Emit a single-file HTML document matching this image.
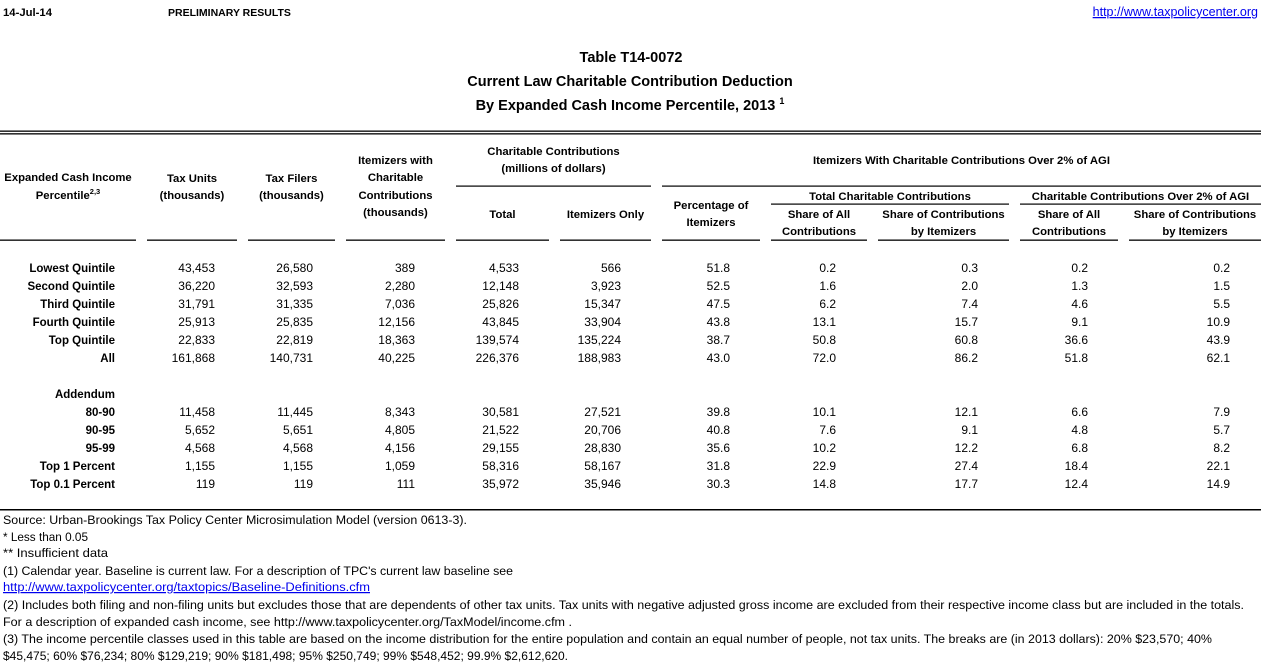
<!DOCTYPE html>
<html>
<head>
<meta charset="utf-8">
<style>
html,body{margin:0;padding:0;background:#fff;}
svg{display:block;}
text{font-family:"Liberation Sans",Arial,sans-serif;fill:#000;}
.h{font-weight:bold;font-size:11.3px;text-anchor:middle;}
.lb{font-weight:bold;font-size:11.5px;text-anchor:end;}
.d{font-size:12px;text-anchor:end;}
.ti{font-weight:bold;font-size:14.5px;text-anchor:middle;}
.f{font-size:12.3px;}
.lnk{fill:#0000ee;text-decoration:underline;}
</style>
</head>
<body>
<svg width="1261" height="664" viewBox="0 0 1261 664" xmlns="http://www.w3.org/2000/svg">
<!-- top line -->
<text x="3" y="16" style="font-weight:bold;font-size:11.3px">14-Jul-14</text>
<text x="168" y="16" style="font-weight:bold;font-size:10.5px">PRELIMINARY RESULTS</text>
<text x="1258" y="16" class="lnk" style="font-size:12.5px;text-anchor:end">http://www.taxpolicycenter.org</text>

<!-- titles -->
<text x="631" y="62" class="ti">Table T14-0072</text>
<text x="630" y="86" class="ti">Current Law Charitable Contribution Deduction</text>
<text x="630" y="110" class="ti">By Expanded Cash Income Percentile, 2013 <tspan style="font-size:9px" dy="-6">1</tspan></text>

<!-- double rule -->
<rect x="0" y="130.5" width="1261" height="1.3" fill="#000"/>
<rect x="0" y="133.2" width="1261" height="1.3" fill="#000"/>

<!-- header text -->
<text x="68" y="181" class="h">Expanded Cash Income</text>
<text x="68" y="199" class="h">Percentile<tspan style="font-size:7.5px" dy="-5">2,3</tspan></text>
<text x="192" y="182" class="h">Tax Units</text>
<text x="192" y="199" class="h">(thousands)</text>
<text x="291.5" y="182" class="h">Tax Filers</text>
<text x="291.5" y="199" class="h">(thousands)</text>
<text x="395.5" y="164" class="h">Itemizers with</text>
<text x="395.5" y="181" class="h">Charitable</text>
<text x="395.5" y="199" class="h">Contributions</text>
<text x="395.5" y="216" class="h">(thousands)</text>
<text x="553.5" y="155" class="h">Charitable Contributions</text>
<text x="553.5" y="172" class="h">(millions of dollars)</text>
<text x="961.5" y="164" class="h">Itemizers With Charitable Contributions Over 2% of AGI</text>
<text x="502.5" y="218" class="h">Total</text>
<text x="605.5" y="218" class="h">Itemizers Only</text>
<text x="711" y="209" class="h">Percentage of</text>
<text x="711" y="226" class="h">Itemizers</text>
<text x="890" y="200" class="h">Total Charitable Contributions</text>
<text x="1140.5" y="200" class="h">Charitable Contributions Over 2% of AGI</text>
<text x="819" y="218" class="h">Share of All</text>
<text x="819" y="235" class="h">Contributions</text>
<text x="943.5" y="218" class="h">Share of Contributions</text>
<text x="943.5" y="235" class="h">by Itemizers</text>
<text x="1069" y="218" class="h">Share of All</text>
<text x="1069" y="235" class="h">Contributions</text>
<text x="1195" y="218" class="h">Share of Contributions</text>
<text x="1195" y="235" class="h">by Itemizers</text>

<!-- header rules -->
<rect x="456" y="185.5" width="195" height="1.2" fill="#000"/>
<rect x="662" y="185.5" width="599" height="1.2" fill="#000"/>
<rect x="771" y="203.5" width="238" height="1.2" fill="#000"/>
<rect x="1020" y="203.5" width="241" height="1.2" fill="#000"/>
<g fill="#000">
<rect x="0" y="239.5" width="136" height="1.3"/>
<rect x="147" y="239.5" width="90" height="1.3"/>
<rect x="248" y="239.5" width="87" height="1.3"/>
<rect x="346" y="239.5" width="99" height="1.3"/>
<rect x="456" y="239.5" width="93" height="1.3"/>
<rect x="560" y="239.5" width="91" height="1.3"/>
<rect x="662" y="239.5" width="98" height="1.3"/>
<rect x="771" y="239.5" width="96" height="1.3"/>
<rect x="878" y="239.5" width="131" height="1.3"/>
<rect x="1020" y="239.5" width="98" height="1.3"/>
<rect x="1129" y="239.5" width="132" height="1.3"/>
</g>

<!-- row labels -->
<text x="115" y="272" class="lb">Lowest Quintile</text>
<text x="115" y="290" class="lb">Second Quintile</text>
<text x="115" y="308" class="lb">Third Quintile</text>
<text x="115" y="326" class="lb">Fourth Quintile</text>
<text x="115" y="344" class="lb">Top Quintile</text>
<text x="115" y="362" class="lb">All</text>
<text x="115" y="398" class="lb">Addendum</text>
<text x="115" y="416" class="lb">80-90</text>
<text x="115" y="434" class="lb">90-95</text>
<text x="115" y="452" class="lb">95-99</text>
<text x="115" y="470" class="lb">Top 1 Percent</text>
<text x="115" y="488" class="lb">Top 0.1 Percent</text>

<g class="d">
<text x="215" y="272" class="d">43,453</text>
<text x="215" y="290" class="d">36,220</text>
<text x="215" y="308" class="d">31,791</text>
<text x="215" y="326" class="d">25,913</text>
<text x="215" y="344" class="d">22,833</text>
<text x="215" y="362" class="d">161,868</text>
<text x="215" y="416" class="d">11,458</text>
<text x="215" y="434" class="d">5,652</text>
<text x="215" y="452" class="d">4,568</text>
<text x="215" y="470" class="d">1,155</text>
<text x="215" y="488" class="d">119</text>

<text x="313" y="272" class="d">26,580</text>
<text x="313" y="290" class="d">32,593</text>
<text x="313" y="308" class="d">31,335</text>
<text x="313" y="326" class="d">25,835</text>
<text x="313" y="344" class="d">22,819</text>
<text x="313" y="362" class="d">140,731</text>
<text x="313" y="416" class="d">11,445</text>
<text x="313" y="434" class="d">5,651</text>
<text x="313" y="452" class="d">4,568</text>
<text x="313" y="470" class="d">1,155</text>
<text x="313" y="488" class="d">119</text>

<text x="415" y="272" class="d">389</text>
<text x="415" y="290" class="d">2,280</text>
<text x="415" y="308" class="d">7,036</text>
<text x="415" y="326" class="d">12,156</text>
<text x="415" y="344" class="d">18,363</text>
<text x="415" y="362" class="d">40,225</text>
<text x="415" y="416" class="d">8,343</text>
<text x="415" y="434" class="d">4,805</text>
<text x="415" y="452" class="d">4,156</text>
<text x="415" y="470" class="d">1,059</text>
<text x="415" y="488" class="d">111</text>

<text x="519" y="272" class="d">4,533</text>
<text x="519" y="290" class="d">12,148</text>
<text x="519" y="308" class="d">25,826</text>
<text x="519" y="326" class="d">43,845</text>
<text x="519" y="344" class="d">139,574</text>
<text x="519" y="362" class="d">226,376</text>
<text x="519" y="416" class="d">30,581</text>
<text x="519" y="434" class="d">21,522</text>
<text x="519" y="452" class="d">29,155</text>
<text x="519" y="470" class="d">58,316</text>
<text x="519" y="488" class="d">35,972</text>

<text x="621" y="272" class="d">566</text>
<text x="621" y="290" class="d">3,923</text>
<text x="621" y="308" class="d">15,347</text>
<text x="621" y="326" class="d">33,904</text>
<text x="621" y="344" class="d">135,224</text>
<text x="621" y="362" class="d">188,983</text>
<text x="621" y="416" class="d">27,521</text>
<text x="621" y="434" class="d">20,706</text>
<text x="621" y="452" class="d">28,830</text>
<text x="621" y="470" class="d">58,167</text>
<text x="621" y="488" class="d">35,946</text>

<text x="730" y="272" class="d">51.8</text>
<text x="730" y="290" class="d">52.5</text>
<text x="730" y="308" class="d">47.5</text>
<text x="730" y="326" class="d">43.8</text>
<text x="730" y="344" class="d">38.7</text>
<text x="730" y="362" class="d">43.0</text>
<text x="730" y="416" class="d">39.8</text>
<text x="730" y="434" class="d">40.8</text>
<text x="730" y="452" class="d">35.6</text>
<text x="730" y="470" class="d">31.8</text>
<text x="730" y="488" class="d">30.3</text>

<text x="836" y="272" class="d">0.2</text>
<text x="836" y="290" class="d">1.6</text>
<text x="836" y="308" class="d">6.2</text>
<text x="836" y="326" class="d">13.1</text>
<text x="836" y="344" class="d">50.8</text>
<text x="836" y="362" class="d">72.0</text>
<text x="836" y="416" class="d">10.1</text>
<text x="836" y="434" class="d">7.6</text>
<text x="836" y="452" class="d">10.2</text>
<text x="836" y="470" class="d">22.9</text>
<text x="836" y="488" class="d">14.8</text>

<text x="978" y="272" class="d">0.3</text>
<text x="978" y="290" class="d">2.0</text>
<text x="978" y="308" class="d">7.4</text>
<text x="978" y="326" class="d">15.7</text>
<text x="978" y="344" class="d">60.8</text>
<text x="978" y="362" class="d">86.2</text>
<text x="978" y="416" class="d">12.1</text>
<text x="978" y="434" class="d">9.1</text>
<text x="978" y="452" class="d">12.2</text>
<text x="978" y="470" class="d">27.4</text>
<text x="978" y="488" class="d">17.7</text>

<text x="1088" y="272" class="d">0.2</text>
<text x="1088" y="290" class="d">1.3</text>
<text x="1088" y="308" class="d">4.6</text>
<text x="1088" y="326" class="d">9.1</text>
<text x="1088" y="344" class="d">36.6</text>
<text x="1088" y="362" class="d">51.8</text>
<text x="1088" y="416" class="d">6.6</text>
<text x="1088" y="434" class="d">4.8</text>
<text x="1088" y="452" class="d">6.8</text>
<text x="1088" y="470" class="d">18.4</text>
<text x="1088" y="488" class="d">12.4</text>

<text x="1230" y="272" class="d">0.2</text>
<text x="1230" y="290" class="d">1.5</text>
<text x="1230" y="308" class="d">5.5</text>
<text x="1230" y="326" class="d">10.9</text>
<text x="1230" y="344" class="d">43.9</text>
<text x="1230" y="362" class="d">62.1</text>
<text x="1230" y="416" class="d">7.9</text>
<text x="1230" y="434" class="d">5.7</text>
<text x="1230" y="452" class="d">8.2</text>
<text x="1230" y="470" class="d">22.1</text>
<text x="1230" y="488" class="d">14.9</text>
</g>

<!-- footer rule -->
<rect x="0" y="509" width="1261" height="1.5" fill="#000"/>

<!-- footer -->
<text x="3" y="524" class="f" textLength="464" lengthAdjust="spacingAndGlyphs">Source: Urban-Brookings Tax Policy Center Microsimulation Model (version 0613-3).</text>
<text x="3" y="541" class="f" textLength="85" lengthAdjust="spacingAndGlyphs">* Less than 0.05</text>
<text x="3" y="557" class="f" textLength="105" lengthAdjust="spacingAndGlyphs">** Insufficient data</text>
<text x="3" y="575" class="f" textLength="510" lengthAdjust="spacingAndGlyphs">(1) Calendar year. Baseline is current law. For a description of TPC's current law baseline see</text>
<text x="3" y="591" class="f lnk" textLength="367" lengthAdjust="spacingAndGlyphs">http://www.taxpolicycenter.org/taxtopics/Baseline-Definitions.cfm</text>
<text x="3" y="609" class="f" textLength="1241" lengthAdjust="spacingAndGlyphs">(2) Includes both filing and non-filing units but excludes those that are dependents of other tax units. Tax units with negative adjusted gross income are excluded from their respective income class but are included in the totals.</text>
<text x="3" y="626" class="f" textLength="569" lengthAdjust="spacingAndGlyphs">For a description of expanded cash income, see http://www.taxpolicycenter.org/TaxModel/income.cfm .</text>
<text x="3" y="643" class="f" textLength="1209" lengthAdjust="spacingAndGlyphs">(3) The income percentile classes used in this table are based on the income distribution for the entire population and contain an equal number of people, not tax units. The breaks are (in 2013 dollars): 20% $23,570; 40%</text>
<text x="3" y="660" class="f" textLength="565" lengthAdjust="spacingAndGlyphs">$45,475; 60% $76,234; 80% $129,219; 90% $181,498; 95% $250,749; 99% $548,452; 99.9% $2,612,620.</text>
</svg>
</body>
</html>
